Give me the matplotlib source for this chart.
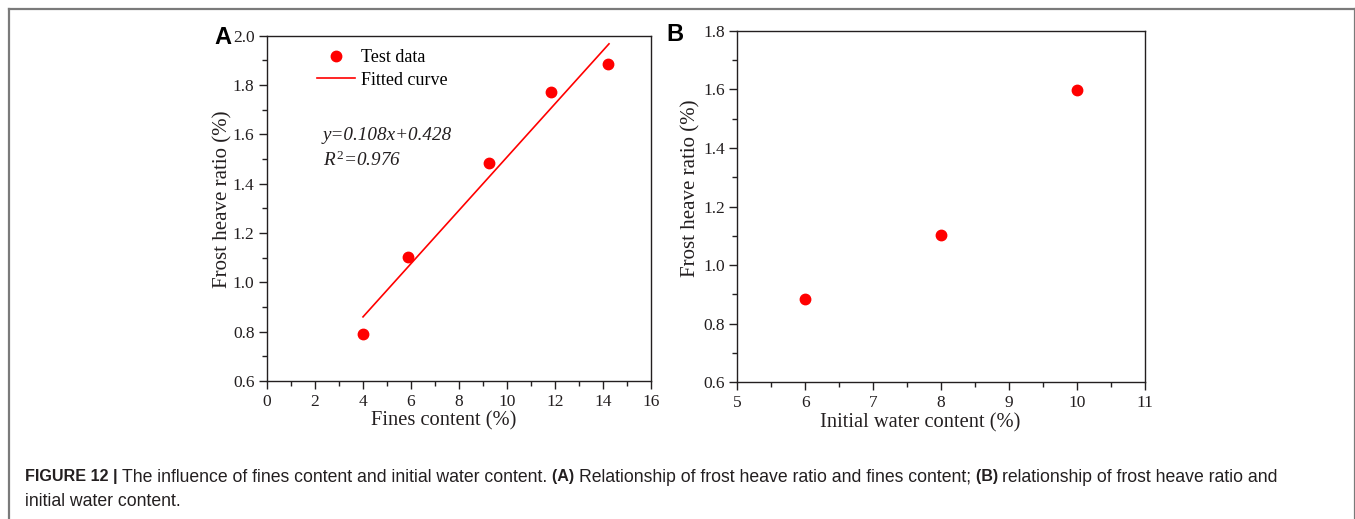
import matplotlib
matplotlib.use("Agg")
import matplotlib.pyplot as plt
from matplotlib.lines import Line2D
from matplotlib.ticker import MultipleLocator
import numpy as np

plt.rcParams["mathtext.fontset"] = "custom"
plt.rcParams["mathtext.rm"] = "Liberation Serif"
plt.rcParams["mathtext.it"] = "Liberation Serif:italic"

# ---- data ----
fines_x = [4.02, 5.87, 9.27, 11.84, 14.21]
fines_y = [0.792, 1.101, 1.482, 1.772, 1.884]
fit_slope = 0.108
fit_intercept = 0.428
fit_range = [4.0, 14.25]

water_x = [6, 8, 10]
water_y = [0.885, 1.103, 1.599]

W, H = 1355, 519
fig = plt.figure(figsize=(W / 100, H / 100), dpi=100)
fig.patch.set_facecolor("white")

serif = ["Liberation Serif", "DejaVu Serif"]
sans = ["Liberation Sans", "DejaVu Sans"]
ink = "#231f20"

def fx(px):
    return px / W

def fy(py):
    return 1 - py / H

# border
bc = "#7a7a7a"
fig.add_artist(Line2D([fx(9), fx(1354.5)], [fy(8.5), fy(8.5)], color=bc, lw=1.6, transform=fig.transFigure))
fig.add_artist(Line2D([fx(9), fx(9)], [fy(8.5), 0], color=bc, lw=1.6, transform=fig.transFigure))
fig.add_artist(Line2D([fx(1354.5), fx(1354.5)], [fy(8.5), 0], color=bc, lw=1.6, transform=fig.transFigure))

def style_axes(ax):
    for s in ax.spines.values():
        s.set_linewidth(1.0)
        s.set_color(ink)
    ax.tick_params(which="major", direction="out", length=6, width=1.0, labelsize=12.5,
                   top=False, right=False, colors=ink)
    ax.tick_params(which="minor", direction="out", length=3.5, width=1.0,
                   top=False, right=False, colors=ink)
    for lab in ax.get_xticklabels() + ax.get_yticklabels():
        lab.set_family(serif)
    ax.tick_params(axis="x", pad=3)
    ax.tick_params(axis="y", pad=3)

# ---- Panel A ----
a_l, a_r, a_t, a_b = 267, 651, 35.7, 381
axA = fig.add_axes([fx(a_l), fy(a_b), (a_r - a_l) / W, (a_b - a_t) / H])
axA.plot(fines_x, fines_y, "o", color="#ff0000", ms=7.5, mec="#ff0000", label="Test data", zorder=3)
xf = np.array(fit_range)
axA.plot(xf, fit_slope * xf + fit_intercept, "-", color="#ff0000", lw=1.2, label="Fitted curve")
axA.set_xlim(0, 16)
axA.set_ylim(0.6, 2.0)
axA.set_xticks(np.arange(0, 17, 2))
axA.set_xticklabels([str(v) for v in range(0, 17, 2)])
axA.xaxis.set_minor_locator(MultipleLocator(1))
axA.set_yticks(np.round(np.arange(0.6, 2.01, 0.2), 1))
axA.set_yticklabels([f"{v:.1f}" for v in np.arange(0.6, 2.01, 0.2)])
axA.yaxis.set_minor_locator(MultipleLocator(0.1))
style_axes(axA)
axA.set_xlabel("Fines content (%)", fontsize=14.8, family=serif, va="center", color=ink)
axA.xaxis.set_label_coords((444 - a_l) / (a_r - a_l), (a_b - 421) / (a_b - a_t))
axA.set_ylabel("Frost heave ratio (%)", fontsize=15, family=serif, va="center", color=ink)
axA.yaxis.set_label_coords((222.5 - a_l) / (a_r - a_l), (a_b - 199) / (a_b - a_t))
axA.legend(loc="upper left", bbox_to_anchor=((317 - a_l) / (a_r - a_l), (a_b - 49) / (a_b - a_t)),
           frameon=False, prop={"family": serif, "size": 13}, handlelength=2.1,
           handletextpad=0.35, labelspacing=0.32, borderaxespad=0, borderpad=0)
axA.text((322.7 - a_l) / (a_r - a_l), (a_b - 135) / (a_b - a_t), "y=0.108x+0.428",
         transform=axA.transAxes, fontsize=13.8, family=serif, style="italic",
         va="center", ha="left", color=ink)
axA.text((322.7 - a_l) / (a_r - a_l), (a_b - 160) / (a_b - a_t), r"$R^{\mathrm{2}}$=0.976",
         transform=axA.transAxes, fontsize=13.8, family=serif, style="italic",
         va="center", ha="left", color=ink)
fig.text(fx(223), fy(37.5), "A", fontsize=17, fontweight="bold", family=sans,
         ha="center", va="center", color="black")

# ---- Panel B ----
b_l, b_r, b_t, b_b = 737.3, 1145, 30.7, 382.3
axB = fig.add_axes([fx(b_l), fy(b_b), (b_r - b_l) / W, (b_b - b_t) / H])
axB.plot(water_x, water_y, "o", color="#ff0000", ms=7.5, mec="#ff0000", zorder=3)
axB.set_xlim(5, 11)
axB.set_ylim(0.6, 1.8)
axB.set_xticks(range(5, 12))
axB.set_xticklabels([str(v) for v in range(5, 12)])
axB.xaxis.set_minor_locator(MultipleLocator(0.5))
axB.set_yticks(np.round(np.arange(0.6, 1.81, 0.2), 1))
axB.set_yticklabels([f"{v:.1f}" for v in np.arange(0.6, 1.81, 0.2)])
axB.yaxis.set_minor_locator(MultipleLocator(0.1))
style_axes(axB)
axB.set_xlabel("Initial water content (%)", fontsize=14.8, family=serif, va="center", color=ink)
axB.xaxis.set_label_coords((920 - b_l) / (b_r - b_l), (b_b - 423) / (b_b - b_t))
axB.set_ylabel("Frost heave ratio (%)", fontsize=15, family=serif, va="center", color=ink)
axB.yaxis.set_label_coords((691 - b_l) / (b_r - b_l), (b_b - 188) / (b_b - b_t))
fig.text(fx(675), fy(34.5), "B", fontsize=17, fontweight="bold", family=sans,
         ha="center", va="center", color="black")

# ---- caption ----
reg_size = 12.7
bold_size = 11.6
line1 = [
    ("FIGURE 12 | ", "bold"),
    ("The influence of fines content and initial water content. ", "normal"),
    ("(A) ", "bold"),
    ("Relationship of frost heave ratio and fines content; ", "normal"),
    ("(B) ", "bold"),
    ("relationship of frost heave ratio and", "normal"),
]
fig.canvas.draw()
renderer = fig.canvas.get_renderer()
x = fx(25)
for txt, wgt in line1:
    t = fig.text(x, fy(477), txt, fontsize=bold_size if wgt == "bold" else reg_size,
                 fontweight=wgt, family=sans, va="center", ha="left", color=ink)
    bb = t.get_window_extent(renderer=renderer)
    x += bb.width / W
fig.text(fx(25), fy(501), "initial water content.", fontsize=reg_size, family=sans,
         va="center", ha="left", color=ink)

fig.savefig("out.png", dpi=100, facecolor="white")
